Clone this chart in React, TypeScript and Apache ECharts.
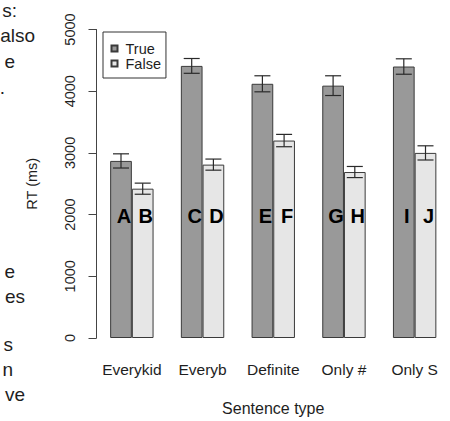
import React, { useEffect, useRef } from "react";
import * as echarts from "echarts";

const categories = ["Everykid", "Everyb", "Definite", "Only #", "Only S"];
const trueMeans = [2870, 4410, 4120, 4090, 4400];
const falseMeans = [2420, 2810, 3200, 2690, 3000];
const trueErr = [115, 120, 130, 160, 125];
const falseErr = [90, 90, 100, 90, 115];
const trueLetters = ["A", "C", "E", "G", "I"];
const falseLetters = ["B", "D", "F", "H", "J"];
const seriesNames = ["True", "False"];
const yMin = 0;
const yMax = 5000;
const yInterval = 1000;

// fragments of surrounding paper text, cut off at the left edge
const sideText = ["s:", "also", "e", ".", "e", "es", "s", "n", "ve"];

const FONT = "'Liberation Sans', Arial, Helvetica, sans-serif";
const BAR_W = 21.7;
const LETTER_Y = 1985;

export default function App() {
  const ref = useRef<HTMLDivElement>(null);
  useEffect(() => {
    if (!ref.current) return;
    const chart = echarts.init(ref.current, undefined, { renderer: "svg" });

    const errData: number[][] = [];
    categories.forEach((_, i) => {
      errData.push([i, trueMeans[i], trueErr[i], 0]);
      errData.push([i, falseMeans[i], falseErr[i], 1]);
    });
    const letterData: number[][] = [];
    const letterText: string[] = [];
    categories.forEach((_, i) => {
      letterData.push([i, LETTER_Y, 0]);
      letterText.push(trueLetters[i]);
      letterData.push([i, LETTER_Y, 1]);
      letterText.push(falseLetters[i]);
    });

    // [right edge x, baseline y]
    const sidePos = [
      [17, 16], [35, 41.7], [15, 67.5], [5, 93],
      [15, 277], [25, 302], [13, 350], [13, 375], [25, 400],
    ];

    chart.setOption({
      animation: false,
      textStyle: { fontFamily: FONT },
      graphic: sideText.map((t, i) => ({
        type: "text",
        x: sidePos[i][0],
        y: sidePos[i][1] - 6,
        style: {
          text: t,
          fontFamily: FONT,
          fontSize: 19,
          fill: "#1e1e1e",
          textAlign: "right",
          textVerticalAlign: "middle",
          verticalAlign: "middle",
        },
      })),
      legend: {
        data: seriesNames,
        orient: "vertical",
        left: 103,
        top: 32,
        padding: [9, 5, 7, 7.5],
        itemWidth: 6,
        itemHeight: 6,
        itemGap: 0,
        icon: "rect",
        borderColor: "#333",
        borderWidth: 1,
        textStyle: {
          fontFamily: FONT,
          fontSize: 14.5,
          color: "#1e1e1e",
          lineHeight: 14.5,
          padding: [0, 0, 0, 3],
        },
      },
      grid: { left: 96.5, top: 29.5, width: 365.5, height: 311.5 },
      xAxis: {
        type: "category",
        data: categories,
        axisLine: { show: false },
        axisTick: { show: false },
        axisLabel: { interval: 0, fontFamily: FONT, fontSize: 15.5, color: "#1e1e1e", margin: 23 },
        name: "Sentence type",
        nameLocation: "middle",
        nameGap: 62,
        nameTextStyle: { fontFamily: FONT, fontSize: 16, color: "#1e1e1e" },
      },
      yAxis: {
        type: "value",
        min: yMin,
        max: yMax,
        interval: yInterval,
        splitLine: { show: false },
        axisLine: { show: true, lineStyle: { color: "#444", width: 1 } },
        axisTick: { show: true, inside: false, length: 8, lineStyle: { color: "#444" } },
        axisLabel: {
          rotate: 90,
          fontFamily: FONT,
          fontSize: 14.5,
          color: "#1e1e1e",
          margin: 19,
          formatter: (v: number) => String(v),
        },
        name: "RT (ms)",
        nameLocation: "middle",
        nameGap: 57,
        nameTextStyle: { fontFamily: FONT, fontSize: 14.5, color: "#1e1e1e" },
      },
      series: [
        {
          name: "True",
          type: "bar",
          data: trueMeans,
          barWidth: BAR_W,
          barGap: "0%",
          itemStyle: { color: "#999999", borderColor: "#3a3a3a", borderWidth: 1 },
        },
        {
          name: "False",
          type: "bar",
          data: falseMeans,
          barWidth: BAR_W,
          barGap: "0%",
          itemStyle: { color: "#e6e6e6", borderColor: "#3a3a3a", borderWidth: 1 },
        },
        {
          type: "custom",
          data: errData,
          z: 5,
          renderItem: (params: any, api: any) => {
            const idx = api.value(0);
            const mean = api.value(1);
            const err = api.value(2);
            const which = api.value(3);
            const hi = api.coord([idx, mean + err]);
            const lo = api.coord([idx, mean - err]);
            const x = hi[0] + (which === 0 ? -BAR_W / 2 : BAR_W / 2);
            const cap = 8;
            const st = { stroke: "#2a2a2a", lineWidth: 1.2 };
            return {
              type: "group",
              children: [
                { type: "line", shape: { x1: x, y1: hi[1], x2: x, y2: lo[1] }, style: st },
                { type: "line", shape: { x1: x - cap, y1: hi[1], x2: x + cap, y2: hi[1] }, style: st },
                { type: "line", shape: { x1: x - cap, y1: lo[1], x2: x + cap, y2: lo[1] }, style: st },
              ],
            };
          },
        },
        {
          type: "custom",
          data: letterData,
          z: 6,
          renderItem: (params: any, api: any) => {
            const idx = api.value(0);
            const which = api.value(2);
            const p = api.coord([idx, api.value(1)]);
            const x = p[0] + (which === 0 ? -BAR_W / 2 : BAR_W / 2) + 3;
            return {
              type: "text",
              x,
              y: p[1],
              style: {
                text: letterText[params.dataIndex],
                fontFamily: FONT,
                fontSize: 20,
                fontWeight: "bold",
                fill: "#000",
                textAlign: "center",
                textVerticalAlign: "middle",
                verticalAlign: "middle",
              },
            };
          },
        },
      ],
    });
    return () => chart.dispose();
  }, []);
  return (
    <div
      ref={ref}
      style={{ position: "fixed", left: 0, top: 0, width: 450, height: 421, background: "#fff" }}
    />
  );
}
